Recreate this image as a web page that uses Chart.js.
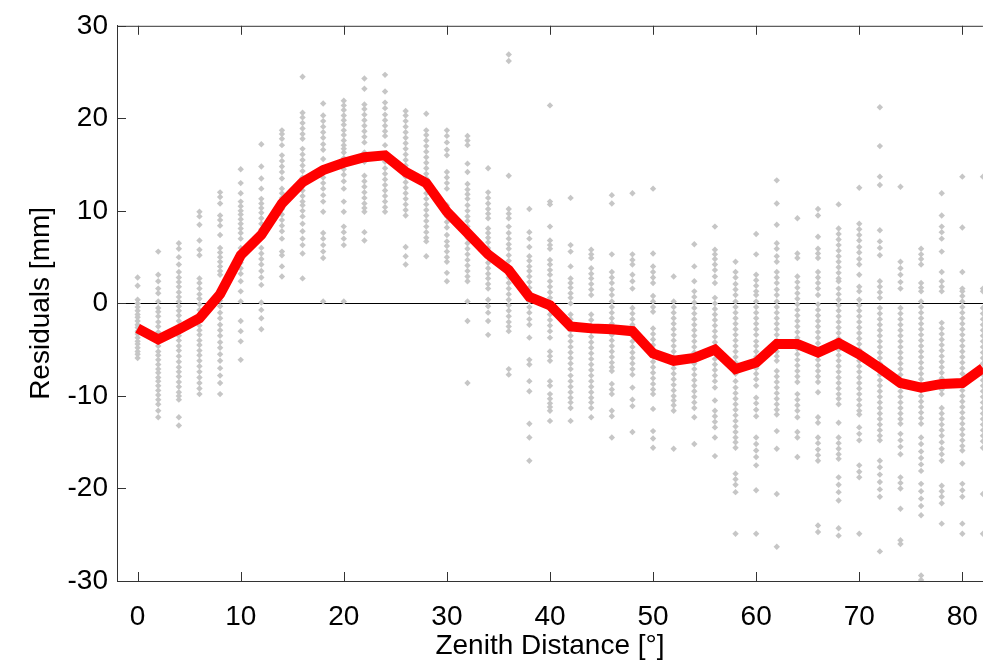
<!DOCTYPE html>
<html>
<head>
<meta charset="utf-8">
<script src="https://cdn.jsdelivr.net/npm/chart.js@4.4.1/dist/chart.umd.min.js"></script>
<style>
    body { margin: 0; background: #fff; }
    #box { width: 989px; height: 661px; }
</style>
</head>
<body>
<div id="box"><canvas id="residuosChart"></canvas></div>
<script>
// distancia zenital (graus), uma coluna de pontos a cada 2°
const zenith = [0, 2, 4, 6, 8, 10, 12, 14, 16, 18, 20, 22, 24, 26, 28, 30, 32, 34, 36, 38, 40,
    42, 44, 46, 48, 50, 52, 54, 56, 58, 60, 62, 64, 66, 68, 70, 72, 74, 76, 78, 80, 82];

// media dos residuos (linha vermelha), mm
const meanResidual = [-2.7, -3.9, -2.8, -1.6, 1.0, 5.2, 7.4, 10.8, 13.1, 14.4, 15.2, 15.8, 16.0, 14.2,
    13.0, 9.9, 7.6, 5.3, 3.6, 0.7, -0.2, -2.5, -2.7, -2.8, -3.0, -5.4, -6.2, -5.9, -5.0, -7.1, -6.4,
    -4.4, -4.4, -5.3, -4.3, -5.5, -7.0, -8.6, -9.1, -8.7, -8.6, -7.0];

// residuos individuais (pontos cinza), uma lista por distancia zenital
const residuals = [
    [2.8, 1.9, 0.4, 0.0, -0.4, -0.8, -1.2, -1.5, -1.9, -2.3, -2.6, -3.0, -3.3, -3.7, -4.1, -4.4, -4.8, -5.2, -5.5, -5.9],
    [5.6, 3.1, 2.4, 1.6, 1.1, 0.2, -0.5, -0.9, -1.4, -2.0, -2.5, -3.1, -3.6, -4.0, -4.6, -5.2, -5.6, -6.1, -6.6, -7.1, -7.5, -8.0, -8.4, -8.9, -9.4, -9.9, -10.4, -10.9, -11.6, -12.3],
    [6.5, 5.9, 5.0, 4.2, 3.4, 2.8, 2.3, 1.8, 1.2, 0.7, 0.2, -0.3, -0.8, -1.3, -1.9, -2.4, -2.9, -3.5, -4.0, -4.6, -5.1, -5.7, -6.3, -6.9, -7.4, -7.9, -8.5, -9.0, -9.6, -10.0, -10.4, -12.3, -13.2],
    [9.9, 9.4, 8.5, 6.8, 5.8, 5.2, 2.7, 2.2, 1.6, 1.0, 0.5, -0.1, -0.7, -1.3, -1.8, -2.4, -2.9, -3.4, -4.0, -4.5, -5.1, -5.6, -6.2, -6.8, -7.4, -8.0, -8.6, -9.2, -9.8],
    [12.0, 11.5, 10.8, 9.5, 9.0, 8.4, 7.4, 6.0, 5.5, 5.0, 4.5, 4.0, 3.5, 3.1, 0.9, 0.3, -0.3, -1.0, -1.6, -2.3, -2.9, -3.5, -4.2, -4.8, -5.5, -6.2, -7.0, -7.8, -8.6, -9.8],
    [14.5, 13.0, 11.9, 11.0, 10.5, 10.0, 9.6, 9.1, 8.6, 8.1, 7.6, 7.0, 6.0, 5.5, 5.0, 4.4, 3.8, 3.2, 2.4, 1.3, 0.2, -1.9, -3.0, -4.1, -6.1],
    [17.2, 14.8, 13.5, 12.4, 11.3, 10.8, 10.3, 9.8, 9.2, 8.6, 8.0, 7.4, 6.0, 5.4, 4.8, 4.2, 3.5, 2.8, 2.0, 0.1, -0.7, -1.6, -2.8],
    [18.7, 18.3, 17.8, 17.1, 16.0, 15.4, 14.8, 14.2, 13.5, 12.4, 11.9, 11.4, 10.8, 10.2, 9.6, 9.0, 8.4, 7.8, 7.0, 5.6, 5.2, 4.0, 2.9],
    [24.5, 20.6, 20.1, 19.5, 18.9, 18.3, 17.8, 16.7, 16.1, 15.5, 14.9, 14.3, 13.6, 12.9, 12.2, 11.6, 11.0, 10.6, 10.0, 9.4, 8.6, 7.8, 7.0, 6.3, 5.4, 2.7],
    [21.6, 20.3, 19.7, 19.1, 18.5, 17.9, 17.2, 16.6, 15.6, 14.2, 13.6, 13.0, 12.4, 11.7, 11.0, 9.9, 7.6, 7.0, 6.3, 5.6, 4.9, 0.2],
    [21.9, 21.4, 20.9, 20.3, 19.8, 19.3, 18.7, 18.2, 17.6, 17.1, 16.7, 16.3, 15.7, 15.1, 14.5, 13.9, 13.2, 12.4, 11.0, 9.9, 8.3, 7.7, 7.0, 6.3, 0.2],
    [24.3, 23.2, 21.5, 21.0, 20.4, 19.8, 19.2, 18.6, 18.0, 17.4, 16.3, 15.8, 15.3, 13.8, 13.2, 12.6, 12.0, 11.4, 10.8, 10.3, 9.9, 7.7, 6.8],
    [24.7, 22.9, 21.7, 21.1, 20.4, 19.8, 19.2, 18.6, 18.1, 17.1, 15.3, 14.6, 14.0, 13.4, 12.8, 12.2, 11.6, 11.0, 10.4, 9.9],
    [20.8, 20.3, 19.7, 19.1, 18.5, 17.9, 17.3, 16.7, 16.1, 15.5, 14.9, 14.3, 13.7, 13.1, 12.5, 11.9, 11.3, 10.7, 10.1, 9.5, 6.1, 5.1, 4.2],
    [20.5, 18.7, 18.2, 17.6, 17.0, 16.4, 15.8, 15.2, 14.6, 14.0, 13.5, 13.1, 12.5, 11.9, 11.3, 10.7, 10.1, 9.5, 8.9, 8.3, 7.7, 7.1, 6.7, 5.1],
    [18.7, 18.1, 17.4, 16.6, 16.0, 14.2, 13.6, 13.0, 12.4, 10.6, 10.0, 9.4, 8.8, 8.2, 7.4, 6.7, 6.2, 5.6, 5.0, 4.5, 3.3, 2.4],
    [18.1, 17.6, 17.1, 15.1, 14.2, 12.9, 12.3, 11.8, 11.3, 10.6, 10.0, 9.4, 8.9, 8.3, 7.7, 7.1, 6.5, 5.9, 5.3, 4.7, 4.1, 3.5, 2.9, 2.4, 0.2, -1.9, -8.6],
    [14.6, 12.0, 11.4, 10.8, 10.2, 9.7, 9.2, 8.1, 7.6, 7.1, 6.6, 6.0, 5.5, 5.0, 4.4, 3.8, 3.2, 2.7, 2.1, 1.6, 0.4, -0.3, -1.0, -1.9, -3.4],
    [26.9, 26.2, 13.8, 10.2, 9.7, 9.2, 8.3, 7.6, 7.0, 6.4, 5.9, 5.2, 4.6, 4.0, 3.4, 2.8, 2.2, 1.6, 1.0, 0.4, -0.2, -0.8, -1.4, -2.0, -2.5, -3.0, -7.1, -7.7],
    [10.2, 7.7, 7.0, 6.1, 5.1, 4.6, 4.0, 3.5, 2.9, 2.3, 1.7, 1.2, 0.9, 0.2, -0.4, -1.0, -1.7, -2.3, -3.7, -6.1, -6.6, -8.4, -9.5, -13.0, -14.5, -17.0],
    [21.4, 11.0, 10.7, 8.3, 6.8, 6.3, 5.9, 4.7, 4.2, 3.6, 3.1, 2.4, 1.8, 1.2, 0.6, 0.0, -0.6, -1.2, -1.8, -2.4, -3.0, -3.7, -5.2, -5.7, -6.2, -8.4, -8.9, -9.8, -10.3, -10.8, -11.2, -11.6, -12.7],
    [11.4, 6.3, 5.6, 4.0, 2.7, 2.2, 1.7, 1.1, 0.6, 0.0, -1.2, -1.7, -2.3, -2.9, -3.5, -4.1, -4.7, -5.3, -5.9, -6.5, -7.1, -7.8, -8.4, -9.0, -9.6, -10.2, -10.7, -11.3, -12.7],
    [5.8, 5.3, 4.9, 3.8, 3.2, 2.7, 2.1, 1.5, 0.9, -1.2, -1.8, -2.4, -3.0, -3.6, -4.2, -4.8, -5.4, -6.0, -6.6, -7.2, -7.8, -8.4, -9.0, -9.6, -10.2, -10.7, -11.3, -12.3],
    [11.7, 10.8, 5.3, 3.4, 2.8, 2.2, 1.5, 0.9, 0.2, -0.4, -1.0, -1.6, -2.2, -2.8, -3.4, -4.0, -4.6, -5.2, -5.8, -6.4, -6.9, -7.3, -8.7, -9.3, -9.8, -11.6, -12.2, -14.5],
    [11.9, 5.3, 4.7, 4.2, 3.1, 2.4, 1.6, -0.5, -1.1, -1.7, -2.3, -2.9, -3.5, -4.1, -4.7, -5.3, -5.9, -6.5, -7.1, -7.7, -9.1, -10.4, -11.1, -13.9],
    [12.4, 5.4, 4.0, 3.4, 2.8, 2.2, 0.8, 0.2, -0.4, -0.9, -2.7, -3.3, -3.9, -4.5, -5.1, -5.7, -6.3, -6.9, -7.5, -8.1, -8.7, -9.3, -9.8, -11.4, -13.8, -14.6, -15.6],
    [2.9, 0.2, -0.4, -1.0, -1.6, -2.2, -2.8, -3.4, -4.0, -4.6, -5.2, -5.8, -6.4, -7.0, -7.6, -8.2, -8.8, -9.4, -10.0, -10.5, -11.0, -11.6, -15.7],
    [6.4, 4.0, 2.4, 1.3, 0.7, 0.1, -0.5, -1.1, -1.7, -2.3, -2.9, -3.5, -4.1, -4.7, -5.3, -5.9, -6.5, -7.1, -7.7, -8.3, -8.9, -9.5, -10.1, -10.7, -11.3, -12.3, -15.2],
    [8.3, 5.8, 5.3, 4.8, 4.2, 3.6, 2.9, 2.2, 0.6, 0.0, -0.6, -1.2, -1.8, -2.4, -3.0, -3.6, -4.2, -4.8, -5.4, -6.0, -6.6, -7.2, -7.8, -8.4, -9.1, -10.5, -11.6, -12.2, -12.8, -13.4, -14.5, -16.5],
    [4.5, 3.4, 2.8, 2.1, 1.5, 0.9, 0.2, -0.4, -1.0, -1.6, -2.2, -2.8, -3.4, -4.0, -4.6, -5.2, -5.8, -6.4, -7.0, -7.6, -8.4, -9.1, -9.7, -10.3, -10.9, -11.5, -12.1, -12.7, -13.3, -13.9, -14.5, -15.0, -15.6, -18.4, -19.0, -19.6, -20.4, -24.9],
    [7.5, 5.3, 3.1, 2.5, 1.9, 1.3, 0.9, 0.2, -0.4, -1.0, -1.6, -2.2, -2.8, -3.4, -4.1, -4.6, -5.2, -5.8, -6.4, -7.0, -7.6, -8.2, -8.9, -10.2, -10.8, -11.5, -12.2, -14.5, -15.2, -15.9, -16.6, -17.5, -20.2, -24.9],
    [13.3, 10.8, 8.5, 6.5, 5.9, 5.1, 4.5, 3.4, 2.8, 2.2, 1.5, 0.9, 0.2, -0.4, -1.0, -1.6, -2.2, -2.8, -3.4, -4.0, -4.6, -5.2, -5.7, -6.2, -7.3, -7.9, -8.5, -9.1, -9.7, -10.3, -10.9, -11.5, -12.0, -13.8, -15.7, -20.6, -26.3],
    [9.2, 5.4, 4.9, 2.9, 2.3, 1.7, 1.1, 0.5, -0.1, -0.7, -1.3, -1.9, -2.5, -3.1, -3.7, -4.3, -4.9, -5.5, -6.1, -6.7, -7.3, -7.9, -8.5, -9.8, -10.4, -11.0, -11.6, -12.3, -13.9, -14.5, -16.6],
    [10.2, 9.5, 7.2, 5.9, 5.4, 4.9, 3.4, 2.8, 2.2, 1.6, 0.9, -0.1, -0.7, -1.3, -1.9, -2.5, -3.1, -3.7, -4.3, -4.9, -5.5, -6.1, -6.7, -7.3, -7.9, -8.5, -9.6, -12.3, -12.9, -14.5, -15.1, -15.8, -16.4, -17.0, -24.0, -24.7],
    [10.7, 8.1, 7.5, 6.9, 6.3, 5.7, 5.1, 4.5, 3.9, 3.3, 2.7, 2.4, 1.6, 1.0, 0.4, -0.2, -0.8, -1.4, -2.0, -2.6, -3.2, -3.8, -4.4, -5.0, -5.6, -6.2, -6.8, -7.4, -8.0, -8.6, -9.2, -9.8, -10.3, -10.9, -12.9, -14.5, -15.1, -15.7, -16.3, -16.8, -18.8, -19.6, -20.4, -21.3, -24.3, -25.1],
    [12.5, 8.6, 8.0, 7.4, 6.8, 6.1, 5.5, 4.8, 4.2, 3.1, 1.8, 1.3, 0.4, -0.2, -0.8, -1.4, -2.0, -2.6, -3.2, -3.8, -4.4, -5.0, -5.6, -6.2, -6.8, -7.4, -8.0, -8.6, -9.2, -9.8, -10.4, -11.0, -11.6, -12.0, -13.4, -14.1, -14.8, -17.5, -18.2, -18.8, -24.9],
    [21.2, 17.0, 13.7, 12.8, 7.9, 6.7, 6.0, 5.2, 2.4, 1.8, 1.2, 0.6, -0.5, -1.1, -1.7, -2.3, -2.9, -3.5, -4.1, -4.7, -5.3, -5.9, -6.5, -7.1, -7.7, -8.3, -8.9, -9.5, -10.1, -10.7, -11.3, -11.9, -12.5, -13.1, -13.7, -14.3, -14.8, -17.0, -17.7, -18.5, -19.3, -20.1, -20.9, -26.8],
    [12.6, 4.5, 3.8, 3.1, 2.3, 1.6, -0.5, -1.1, -1.7, -2.3, -2.9, -3.5, -4.1, -4.7, -5.3, -5.9, -6.5, -7.1, -7.7, -8.3, -8.9, -9.5, -10.1, -10.7, -11.3, -11.9, -12.5, -13.0, -14.1, -14.8, -15.5, -16.3, -18.8, -19.4, -20.0, -22.2, -25.6, -26.0],
    [5.9, 5.3, 4.8, 4.2, 2.2, 1.7, 1.3, 0.2, -0.4, -1.0, -1.6, -2.2, -2.8, -3.4, -4.0, -4.6, -5.2, -5.8, -6.4, -7.0, -7.6, -8.2, -8.8, -9.4, -10.0, -10.6, -11.2, -11.8, -12.4, -13.0, -14.5, -15.2, -16.0, -16.7, -17.4, -18.1, -19.5, -20.3, -21.1, -21.9, -22.9, -29.4, -29.9],
    [11.9, 9.5, 8.3, 7.7, 7.0, 5.6, 3.4, 2.4, 1.8, 1.3, -2.1, -2.7, -3.3, -3.9, -4.5, -5.1, -5.7, -6.3, -6.9, -7.5, -8.1, -8.7, -9.3, -9.8, -11.3, -11.9, -12.5, -13.1, -13.7, -14.3, -15.0, -15.7, -16.3, -17.0, -19.7, -20.3, -20.9, -21.6, -23.8],
    [13.7, 8.2, 3.4, 1.6, 1.3, 0.8, 0.2, -0.4, -1.0, -1.6, -2.2, -2.8, -3.4, -4.0, -4.6, -5.2, -5.8, -6.4, -7.0, -7.6, -8.2, -8.8, -9.4, -10.0, -10.6, -11.2, -11.8, -12.4, -13.0, -13.6, -14.2, -14.8, -15.4, -15.9, -17.3, -19.5, -20.2, -20.9, -23.8, -24.9],
    [13.7, 1.6, 1.3, -0.5, -1.1, -1.7, -2.3, -2.9, -3.5, -4.1, -4.7, -5.3, -5.9, -6.5, -7.1, -7.7, -8.3, -8.9, -9.5, -10.1, -10.7, -11.3, -11.9, -12.5, -13.1, -13.7, -14.3, -14.9, -15.6, -20.6, -24.9]
];

const xTicks = [0, 10, 20, 30, 40, 50, 60, 70, 80];
const yTicks = [-30, -20, -10, 0, 10, 20, 30];

const fonte = "'Liberation Sans', Arial, sans-serif";

// pontos (x, y) a partir das listas
const pontosCinza = [];
zenith.forEach((z, i) => {
    residuals[i].forEach(r => pontosCinza.push({ x: z, y: r }));
});
const pontosMedia = zenith.map((z, i) => ({ x: z, y: meanResidual[i] }));

// ticks para dentro, estilo matlab, e a linha de cima da caixa
const ticksInternos = {
    id: 'ticksInternos',
    afterDraw(chart) {
        const { ctx, chartArea: a, scales: { x, y } } = chart;
        ctx.save();
        ctx.strokeStyle = '#333';
        ctx.lineWidth = 1;
        ctx.beginPath();
        ctx.moveTo(a.left, a.top + 0.5);
        ctx.lineTo(a.right, a.top + 0.5);
        xTicks.forEach(v => {
            const px = Math.round(x.getPixelForValue(v)) + 0.5;
            ctx.moveTo(px, a.bottom);
            ctx.lineTo(px, a.bottom - 9);
            ctx.moveTo(px, a.top);
            ctx.lineTo(px, a.top + 9);
        });
        yTicks.forEach(v => {
            const py = Math.round(y.getPixelForValue(v)) + 0.5;
            ctx.moveTo(a.left, py);
            ctx.lineTo(a.left + 9, py);
        });
        ctx.stroke();
        ctx.restore();
    }
};

const ctx = document.getElementById('residuosChart');

new Chart(ctx, {
    type: 'scatter',
    data: {
        datasets: [{
            type: 'line',
            data: pontosMedia,
            borderColor: '#ff0000',
            borderWidth: 10,
            pointRadius: 0,
            tension: 0,
            fill: false,
            order: 0
        }, {
            data: pontosCinza,
            backgroundColor: '#c6c6c6',
            borderWidth: 0,
            pointStyle: 'rectRot',
            pointRadius: 3.2,
            order: 1
        }]
    },
    options: {
        responsive: true,
        maintainAspectRatio: false,
        animation: false,
        layout: {
            padding: { top: 23, right: 0, left: 0, bottom: 0 }
        },
        plugins: {
            legend: { display: false },
            tooltip: { enabled: false }
        },
        scales: {
            x: {
                type: 'linear',
                min: -2,
                max: 82,
                afterBuildTicks: s => { s.ticks = xTicks.map(v => ({ value: v })); },
                afterFit: s => { s.height = 80; },
                grid: { display: false },
                border: { color: '#333', width: 1 },
                ticks: {
                    color: '#000',
                    padding: 11,
                    maxRotation: 0,
                    font: { family: fonte, size: 28 }
                },
                title: {
                    display: true,
                    text: 'Zenith Distance [°]',
                    color: '#000',
                    padding: { top: 0, bottom: 0 },
                    font: { family: fonte, size: 28, lineHeight: 1.05 }
                }
            },
            y: {
                min: -30,
                max: 30,
                afterBuildTicks: s => { s.ticks = yTicks.map(v => ({ value: v })); },
                afterFit: s => { s.width = 117; },
                grid: {
                    drawTicks: false,
                    color: c => (c.tick && c.tick.value === 0) ? '#000' : 'rgba(0,0,0,0)',
                    lineWidth: 1
                },
                border: { color: '#333', width: 1 },
                ticks: {
                    color: '#000',
                    padding: 9,
                    font: { family: fonte, size: 28 }
                },
                title: {
                    display: true,
                    text: 'Residuals [mm]',
                    color: '#000',
                    padding: { top: 24, bottom: 0 },
                    font: { family: fonte, size: 28 }
                }
            }
        }
    },
    plugins: [ticksInternos]
});
</script>
</body>
</html>
